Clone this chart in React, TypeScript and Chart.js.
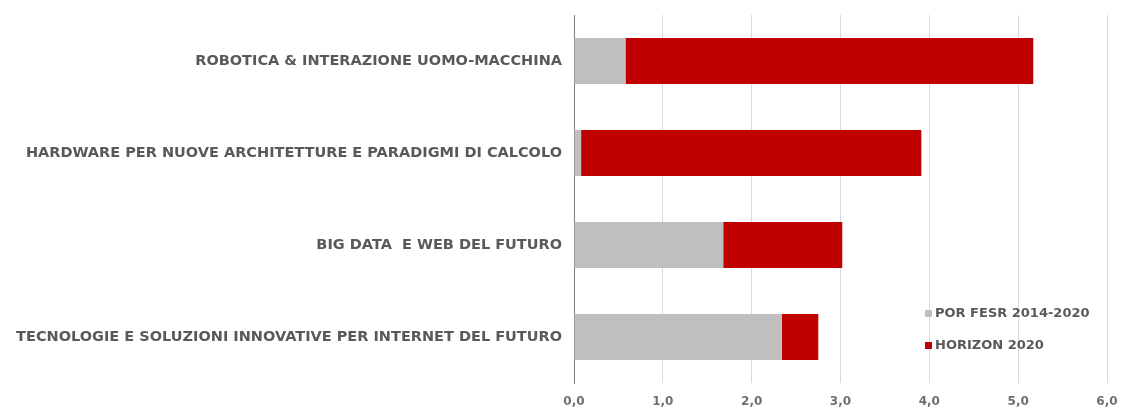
import React, { useEffect, useRef } from "react";
import { Chart, registerables } from "chart.js";

Chart.register(...registerables);

const categories = [
  "ROBOTICA & INTERAZIONE UOMO-MACCHINA",
  "HARDWARE PER NUOVE ARCHITETTURE E PARADIGMI DI CALCOLO",
  "BIG DATA  E WEB DEL FUTURO",
  "TECNOLOGIE E SOLUZIONI INNOVATIVE PER INTERNET DEL FUTURO",
];
const porFesr = [0.58, 0.08, 1.68, 2.34];
const horizon = [4.59, 3.83, 1.34, 0.41];
const seriesNames = ["POR FESR 2014-2020", "HORIZON 2020"];
const xTicks = [0, 1, 2, 3, 4, 5, 6];

const TEXT = "#595959";

const legendPlugin = {
  id: "customLegend",
  afterDraw(chart: any) {
    const ctx = chart.ctx;
    const x = 925;
    const ys = [313, 345];
    ctx.save();
    ctx.font = `bold 13px "DejaVu Sans"`;
    ctx.textBaseline = "middle";
    chart.data.datasets.forEach((ds: any, i: number) => {
      ctx.fillStyle = ds.backgroundColor;
      ctx.fillRect(x, ys[i] - 3, 7, 7);
      ctx.fillStyle = TEXT;
      ctx.fillText(ds.label, x + 10, ys[i] + 1);
    });
    ctx.restore();
  },
};

export default function App() {
  const ref = useRef<HTMLCanvasElement>(null);
  useEffect(() => {
    const chart = new Chart(ref.current!, {
      type: "bar",
      data: {
        labels: categories,
        datasets: [
          { label: seriesNames[0], data: porFesr, backgroundColor: "#BFBFBF" },
          { label: seriesNames[1], data: horizon, backgroundColor: "#C00000" },
        ],
      },
      options: {
        indexAxis: "y",
        animation: false,
        responsive: false,
        maintainAspectRatio: false,
        layout: { padding: { top: 15, right: 14, left: 0, bottom: 0 } },
        datasets: { bar: { barPercentage: 0.5, categoryPercentage: 1 } },
        plugins: { legend: { display: false }, tooltip: { enabled: false } },
        scales: {
          x: {
            stacked: true,
            min: 0,
            max: 6,
            afterBuildTicks: (s: any) => {
              s.ticks = xTicks.map((v) => ({ value: v }));
            },
            afterFit: (s: any) => {
              s.height = 25;
              s.paddingLeft = 0;
              s.paddingRight = 0;
            },
            border: { display: false },
            grid: { color: "#D9D9D9", lineWidth: 1, drawTicks: false },
            ticks: {
              padding: 12,
              color: "#6F6F6F",
              font: { family: "DejaVu Sans", weight: "bold", size: 12 },
              callback: (v: any) => Number(v).toFixed(1).replace(".", ","),
            },
          },
          y: {
            stacked: true,
            afterFit: (s: any) => {
              s.width = 574;
              s.paddingTop = 0;
              s.paddingBottom = 0;
            },
            border: { display: true, color: "#7F7F7F", width: 1 },
            grid: { display: false, drawTicks: false },
            ticks: {
              padding: 12,
              color: TEXT,
              font: { family: "DejaVu Sans", weight: "bold", size: 14.5 },
            },
          },
        },
      },
      plugins: [legendPlugin],
    });
    return () => chart.destroy();
  }, []);
  return (
    <div style={{ position: "fixed", left: 0, top: 0, width: 1121, height: 408, background: "#fff" }}>
      <canvas ref={ref} width={1121} height={408} />
    </div>
  );
}
